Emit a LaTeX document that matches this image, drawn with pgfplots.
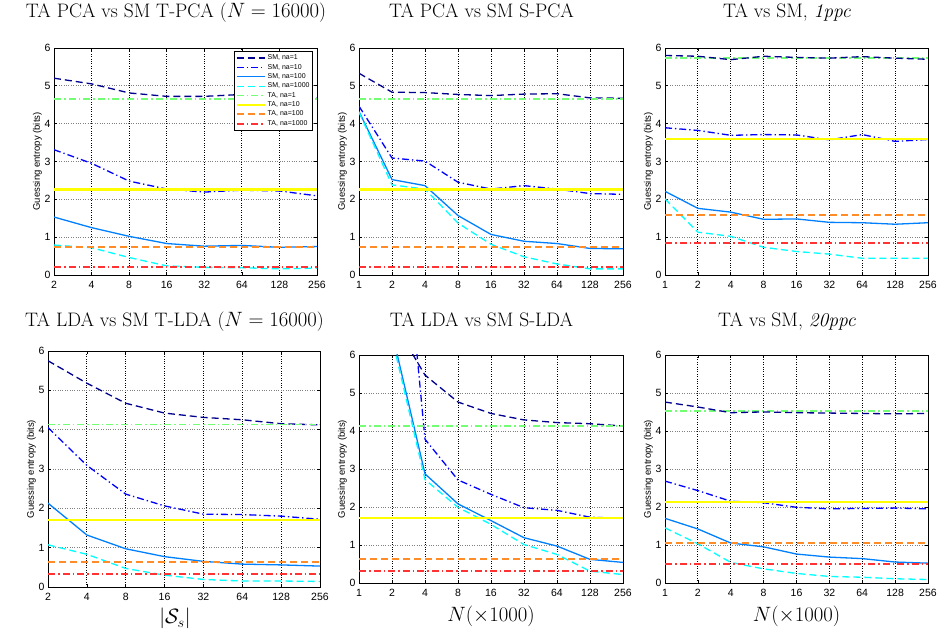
\documentclass[border=0pt]{standalone}
\usepackage{fontspec}
\setsansfont{Liberation Sans}
\usepackage{pgfplots}
\usepackage{pgfplotstable}
\pgfplotsset{compat=1.18}
\definecolor{cA}{rgb}{0,0,0.56}
\definecolor{cB}{rgb}{0,0,1}
\definecolor{cC}{rgb}{0,0.5,1}
\definecolor{cD}{rgb}{0,1,1}
\definecolor{cE}{rgb}{0.45,1,0.45}
\definecolor{cF}{rgb}{1,1,0}
\definecolor{cG}{rgb}{1,0.55,0.15}
\definecolor{cH}{rgb}{1,0.2,0.2}

% panel 1: TA PCA vs SM T-PCA
\pgfplotstableread{
x s1 s10 s100 s1000
1 5.20 3.31 1.53 0.79
2 5.05 2.95 1.25 0.72
3 4.81 2.48 1.02 0.46
4 4.72 2.27 0.83 0.24
5 4.72 2.19 0.76 0.20
6 4.77 2.24 0.78 0.19
7 4.70 2.22 0.73 0.16
8 4.67 2.09 0.75 0.18
}\tA
% panel 2: TA PCA vs SM S-PCA
\pgfplotstableread{
x s1 s10 s100 s1000
0 5.33 4.46 4.32 4.30
1 4.83 3.09 2.52 2.38
2 4.82 3.01 2.36 2.27
3 4.77 2.45 1.57 1.37
4 4.74 2.27 1.07 0.81
5 4.78 2.36 0.89 0.48
6 4.79 2.27 0.83 0.29
7 4.68 2.15 0.70 0.16
8 4.67 2.13 0.69 0.16
}\tB
% panel 3: 1ppc
\pgfplotstableread{
x s1 s10 s100 s1000
0 5.80 3.89 2.21 2.01
1 5.78 3.82 1.76 1.13
2 5.69 3.69 1.66 1.02
3 5.78 3.71 1.47 0.73
4 5.75 3.70 1.48 0.62
5 5.73 3.57 1.39 0.55
6 5.77 3.71 1.38 0.44
7 5.73 3.53 1.34 0.44
8 5.70 3.58 1.38 0.44
}\tC
% panel 4: TA LDA vs SM T-LDA
\pgfplotstableread{
x s1 s10 s100 s1000
1 5.75 4.05 2.13 1.07
2 5.18 3.09 1.32 0.83
3 4.67 2.36 0.97 0.47
4 4.42 2.06 0.77 0.30
5 4.31 1.85 0.65 0.19
6 4.25 1.84 0.58 0.15
7 4.15 1.80 0.56 0.15
8 4.12 1.72 0.53 0.14
}\tD
% panel 5: TA LDA vs SM S-LDA
\pgfplotstableread{
x s1 s10 s100 s1000
0 9.50 14.0 9.00 9.00
1 6.94 13.0 6.60 6.45
2 5.47 3.78 2.87 2.72
3 4.76 2.71 2.08 1.99
4 4.46 2.33 1.64 1.54
5 4.29 1.98 1.19 1.01
6 4.22 1.91 0.97 0.75
7 4.19 1.73 0.62 0.31
8 4.13 1.70 0.54 0.22
}\tE
% panel 6: 20ppc
\pgfplotstableread{
x s1 s10 s100 s1000
0 4.76 2.68 1.70 1.45
1 4.63 2.43 1.42 1.03
2 4.48 2.15 1.05 0.54
3 4.50 2.11 0.95 0.37
4 4.48 1.99 0.76 0.25
5 4.47 1.95 0.68 0.17
6 4.46 1.96 0.64 0.15
7 4.45 1.97 0.55 0.11
8 4.46 1.95 0.52 0.09
}\tF

\pgfplotsset{
  panel/.style={
    scale only axis,
    ymin=0, ymax=6, xmax=8,
    ytick={0,...,6},
    xmajorgrids, ymajorgrids,
    x grid style={black, dotted, line width=0.8pt},
    y grid style={gray, dotted, line width=0.6pt},
    tick align=inside,
    major tick length=3pt,
    axis line style={line width=0.7pt},
    tick style={line width=0.6pt, black},
    tick label style={font=\fontsize{10.5}{12}\sffamily},
    /pgf/number format/assume math mode=true,
    xticklabel style={yshift=-3pt},
    ylabel={Guessing entropy (bits)},
    ylabel style={font=\fontsize{9.5}{11}\sffamily, yshift=-4pt},
    title style={font=\fontsize{19.5}{23}\selectfont, anchor=base, at={(0.5,1)}, xshift=-9.5pt, yshift=24pt},
    legend style={font=\fontsize{7}{8}\sffamily, at={(0.985,0.985)}, anchor=north east,
      inner sep=1.2pt, row sep=-1pt, cells={anchor=west}, draw=black, line width=0.6pt},
    legend image code/.code={\draw[#1] (0pt,0pt) -- (28pt,0pt);},
  },
  fromone/.style={xmin=1, xtick={1,...,8}, xticklabels={2,4,8,16,32,64,128,256}},
  fromzero/.style={xmin=0, xtick={0,...,8}, xticklabels={1,2,4,8,16,32,64,128,256}},
  sA/.style={cA, line width=1.3pt, dash pattern=on 7pt off 4pt},
  sB/.style={cB, line width=1.3pt, dash pattern=on 7pt off 3pt on 1.3pt off 3pt},
  sC/.style={cC, line width=1.3pt},
  sD/.style={cD, line width=1.3pt, dash pattern=on 7pt off 4pt},
  sE/.style={cE, line width=1.9pt, dash pattern=on 7pt off 3pt on 1.5pt off 3pt},
  sF/.style={cF, line width=2.2pt},
  sG/.style={cG, line width=1.9pt, dash pattern=on 7pt off 4pt},
  sH/.style={cH, line width=1.9pt, dash pattern=on 7pt off 3pt on 1.5pt off 3pt},
}

\begin{document}
\begin{tikzpicture}
\path (0pt,0pt) rectangle (945pt,624pt);

% ---------- panel 1
\begin{axis}[panel, fromone, at={(54pt,355pt)}, anchor=south west, width=263pt, height=227pt,
  title={TA PCA vs SM T-PCA ($N = 16000$)}]
\addplot[sA] table[x=x,y=s1]{\tA};
\addplot[sB] table[x=x,y=s10]{\tA};
\addplot[sC] table[x=x,y=s100]{\tA};
\addplot[sD] table[x=x,y=s1000]{\tA};
\addplot[sE] coordinates {(1,4.64) (8,4.64)};
\addplot[sF] coordinates {(1,2.26) (8,2.26)};
\addplot[sG] coordinates {(1,0.74) (8,0.74)};
\addplot[sH] coordinates {(1,0.22) (8,0.22)};
\legend{{SM, na=1},{SM, na=10},{SM, na=100},{SM, na=1000},{TA, na=1},{TA, na=10},{TA, na=100},{TA, na=1000}}
\end{axis}

% ---------- panel 2
\begin{axis}[panel, fromzero, at={(359pt,355pt)}, anchor=south west, width=264pt, height=227pt,
  title={TA PCA vs SM S-PCA}]
\addplot[sA] table[x=x,y=s1]{\tB};
\addplot[sB] table[x=x,y=s10]{\tB};
\addplot[sC] table[x=x,y=s100]{\tB};
\addplot[sD] table[x=x,y=s1000]{\tB};
\addplot[sE] coordinates {(0,4.64) (8,4.64)};
\addplot[sF] coordinates {(0,2.26) (8,2.26)};
\addplot[sG] coordinates {(0,0.74) (8,0.74)};
\addplot[sH] coordinates {(0,0.22) (8,0.22)};
\end{axis}

% ---------- panel 3
\begin{axis}[panel, fromzero, at={(665pt,355pt)}, anchor=south west, width=263pt, height=227pt,
  title={TA vs SM, \textit{1ppc}}]
\addplot[sE] coordinates {(0,5.74) (8,5.74)};
\addplot[sA] table[x=x,y=s1]{\tC};
\addplot[sB] table[x=x,y=s10]{\tC};
\addplot[sC] table[x=x,y=s100]{\tC};
\addplot[sD] table[x=x,y=s1000]{\tC};
\addplot[sF] coordinates {(0,3.60) (8,3.60)};
\addplot[sG] coordinates {(0,1.58) (8,1.58)};
\addplot[sH] coordinates {(0,0.84) (8,0.84)};
\end{axis}

% ---------- panel 4
\begin{axis}[panel, fromone, at={(48pt,43pt)}, anchor=south west, width=272pt, height=236pt,
  title={TA LDA vs SM T-LDA ($N = 16000$)},
  title style={yshift=-6pt},
  xlabel={$|\mathcal{S}_s|$},
  xlabel style={font=\fontsize{21}{25}\selectfont, anchor=base, at={(0.5,0)}, yshift=-37pt, xshift=-9pt}]
\addplot[sA] table[x=x,y=s1]{\tD};
\addplot[sB] table[x=x,y=s10]{\tD};
\addplot[sC] table[x=x,y=s100]{\tD};
\addplot[sD] table[x=x,y=s1000]{\tD};
\addplot[sE] coordinates {(1,4.13) (8,4.13)};
\addplot[sF] coordinates {(1,1.71) (8,1.71)};
\addplot[sG] coordinates {(1,0.64) (8,0.64)};
\addplot[sH] coordinates {(1,0.33) (8,0.33)};
\end{axis}

% ---------- panel 5
\begin{axis}[panel, fromzero, at={(359pt,47pt)}, anchor=south west, width=264pt, height=228pt,
  title={TA LDA vs SM S-LDA},
  title style={yshift=-2pt},
  xlabel={$N(\times 1000)$},
  xlabel style={font=\fontsize{21}{25}\selectfont, anchor=base, at={(0.5,0)}, yshift=-39pt}]
\addplot[sA] table[x=x,y=s1]{\tE};
\addplot[sB] table[x=x,y=s10]{\tE};
\addplot[sC] table[x=x,y=s100]{\tE};
\addplot[sD] table[x=x,y=s1000]{\tE};
\addplot[sE] coordinates {(0,4.13) (8,4.13)};
\addplot[sF] coordinates {(0,1.70) (8,1.70)};
\addplot[sG] coordinates {(0,0.64) (8,0.64)};
\addplot[sH] coordinates {(0,0.31) (8,0.31)};
\end{axis}

% ---------- panel 6
\begin{axis}[panel, fromzero, at={(665pt,47pt)}, anchor=south west, width=263pt, height=228pt,
  title={TA vs SM, \textit{20ppc}},
  title style={yshift=-2pt},
  xlabel={$N(\times 1000)$},
  xlabel style={font=\fontsize{21}{25}\selectfont, anchor=base, at={(0.5,0)}, yshift=-39pt}]
\addplot[sE] coordinates {(0,4.52) (8,4.52)};
\addplot[sA] table[x=x,y=s1]{\tF};
\addplot[sB] table[x=x,y=s10]{\tF};
\addplot[sC] table[x=x,y=s100]{\tF};
\addplot[sD] table[x=x,y=s1000]{\tF};
\addplot[sF] coordinates {(0,2.13) (8,2.13)};
\addplot[sG] coordinates {(0,1.04) (8,1.04)};
\addplot[sH] coordinates {(0,0.51) (8,0.51)};
\end{axis}
\end{tikzpicture}
\end{document}
